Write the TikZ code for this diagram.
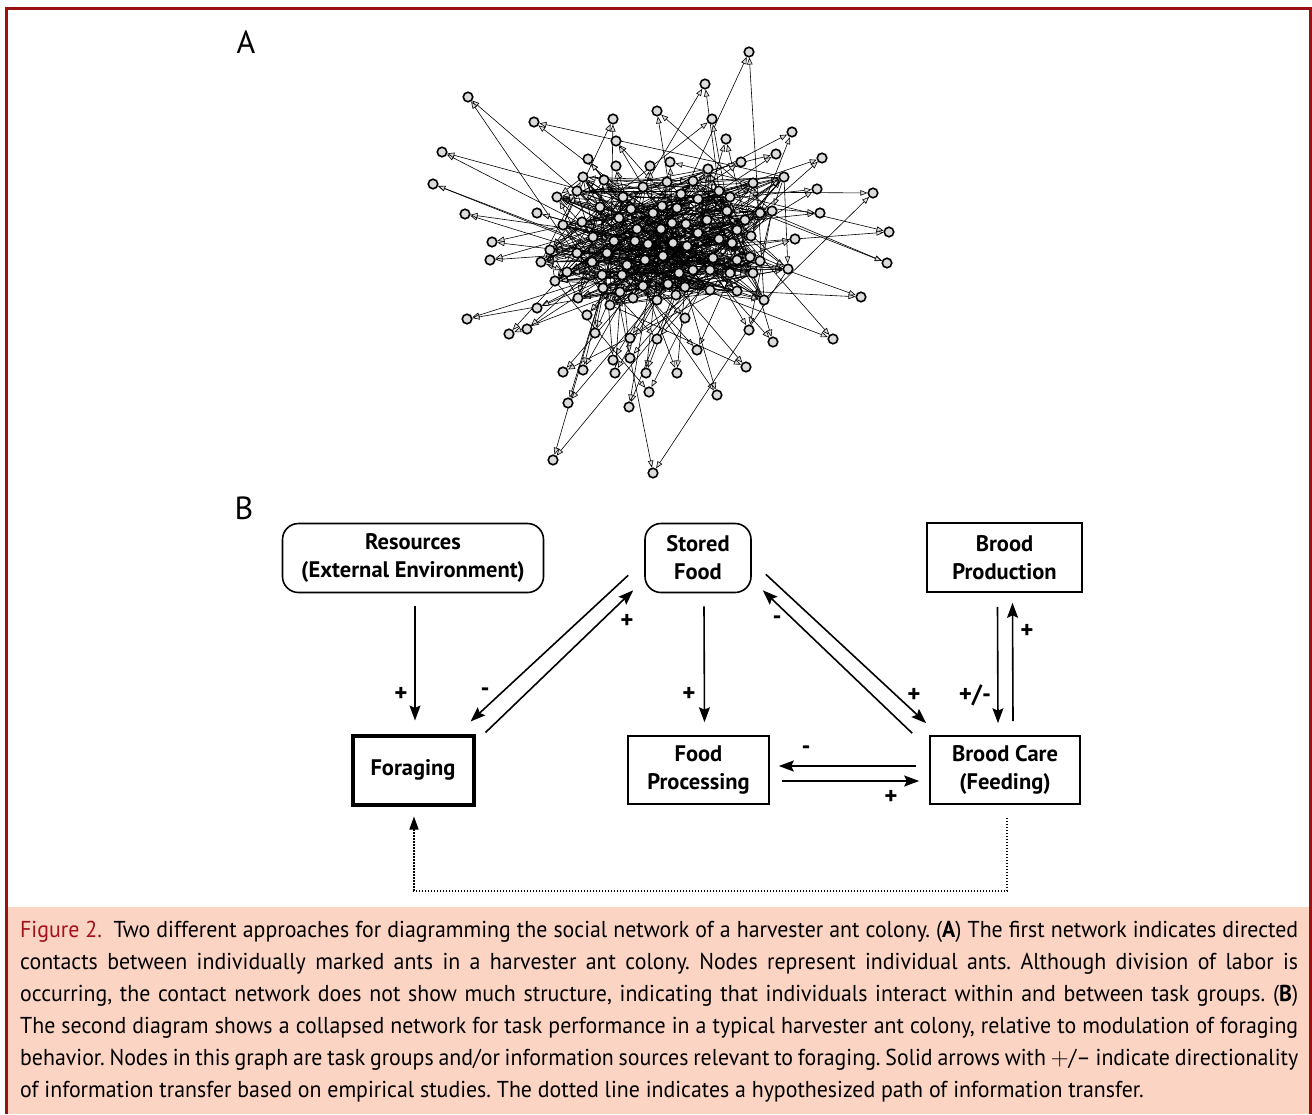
\documentclass[tikz,border=0pt]{standalone}
\usepackage{fontspec}
\setmainfont{PT Sans}
\newfontfamily\capfont{PT Sans}[FakeStretch=0.95]
\newfontfamily\boxfont{PT Sans}[FakeStretch=1.0]
\usetikzlibrary{arrows.meta,calc,positioning,backgrounds}
\definecolor{frame}{HTML}{9B1010}
\definecolor{capbg}{HTML}{FBD4C4}
\definecolor{antgray}{HTML}{DCDCDC}
\definecolor{figred}{HTML}{A3121C}

\begin{document}
\begin{tikzpicture}[x=1pt,y=-1pt,
 ant/.style={circle,draw,line width=1.6pt,fill=antgray,inner sep=0pt,minimum size=9.5pt},
 contact/.style={line width=.6pt,-{Triangle[fill=antgray,length=7pt,width=5.5pt]}},
 task/.style={draw,line width=1.6pt,align=center,inner sep=0pt,minimum height=69pt,
  font=\boxfont\bfseries\fontsize{22.5}{28}\selectfont},
 info/.style={task,rounded corners=16pt},
 flow/.style={line width=1.6pt,-{Stealth[length=15pt,width=11pt,inset=2.5pt]}},
 hyp/.style={line width=1.4pt,dash pattern=on 1.4pt off 1.6pt,-{Triangle[length=13pt,width=9pt]}},
 sign/.style={inner sep=0pt,font=\boxfont\bfseries\fontsize{25}{25}\selectfont},
 panel/.style={inner sep=0pt,font=\fontsize{32}{32}\selectfont}]
\useasboundingbox (0,0) rectangle (1312,1114);
% caption band and frame
\fill[capbg] (8,907) rectangle (1309,1114);
\draw[frame,line width=3pt] (6.5,1114) -- (6.5,8.5) -- (1310.5,8.5) -- (1310.5,1114);
\node[panel] (lblA) at (246,42) {A};
\node[panel] (lblB) at (244,508) {B};

% A: contact network of individual ants
\foreach \x/\y [count=\i] in {600/207,619/218,631/209,637/229,614/241,635/241,648/244,662/206,681/194,698/199,
 686/224,672/223,661/229,663/256,687/246,698/233,707/220,719/191,727/211,737/230,
 745/220,751/236,719/239,732/243,713/258,693/270,679/273,668/284,676/295,685/287,
 645/260,627/265,602/275,603/288,622/275,643/286,593/237,582/222,643/187,667/182,
 677/208,592/262,577/253,620/292,760/213,673/243,710/270,737/260,750/257,753/273,
 730/273,607/253,653/213,623/197,730/197,753/183,693/181,708/169,604/180,583/177,
 577/191,557/197,563/225,550/250,567/272,555/281,541/262,578/298,610/305,633/298,
 657/300,710/290,737/291,760/261,764/300,772/211,784/177,788/269}
 {\node[ant] (c\i) at (\x,\y) {}; \xdef\ncore{\i}}
\foreach \x/\y [count=\i] in {749/52,705/84,468/97,657/111,613/119,712/119,534/122,792/132,726/139,616/141,
 442/152,776/154,822/158,588/159,670/162,741/162,616/166,650/166,817/189,433/184,
 873/193,465/214,537/213,820/213,889/232,795/239,492/242,490/260,887/263,861/297,
 467/319,509/334,527/329,749/330,773/342,833/339,697/350,746/367,717/395,563/372,
 583/370,613/360,615/373,630/358,646/373,677/373,649/392,568/403,629/407,553/460,
 653/473,537/308,587/315,595/333,685/318,657/339,630/338}
 {\node[ant] (o\i) at (\x,\y) {}; \xdef\nouter{\i}}
\pgfmathsetseed{11}
\begin{scope}[on background layer]
 \foreach \i in {1,...,\ncore}{
  \foreach \k in {1,...,6}{
   \pgfmathtruncatemacro\j{mod(\i-1+random(1,\ncore-1),\ncore)+1}
   \draw[contact] (c\i) -- (c\j);
  }
 }
 \foreach \i in {1,...,\nouter}{
  \foreach \k in {1,2}{
   \pgfmathtruncatemacro\j{random(1,\ncore)}
   \draw[contact] (c\j) -- (o\i);
  }
 }
\end{scope}

% B: task groups
\node[info,minimum width=261pt] (res) at (413,558) {Resources\\(External Environment)};
\node[info,minimum width=106pt] (sto) at (698,558) {Stored\\Food};
\node[task,minimum width=155pt] (bp) at (1004.5,557.5) {Brood\\Production};
\node[task,minimum width=121pt,line width=4pt] (for) at (413,770) {Foraging};
\node[task,minimum width=141pt,minimum height=68pt] (fp) at (698.5,770) {Food\\Processing};
\node[task,minimum width=150pt,minimum height=68pt] (bc) at (1005,770) {Brood Care\\(Feeding)};

\draw[flow] ([xshift=2pt,yshift=-13pt]res.south) -- ([xshift=2pt,yshift=13pt]for.north);
\draw[flow] ($(sto.south west)+(-16,-18)$) -- ($(for.north east)+(-5,-12)$);
\draw[flow] ($(for.north east)+(10,-1)$) -- ($(sto.south west)+(-11,-3)$);
\draw[flow] ([xshift=6pt,yshift=-13pt]sto.south) -- ([xshift=6pt,yshift=13pt]fp.north);
\draw[flow] ($(sto.south east)+(14,-19)$) -- ($(bc.north west)+(-3,-12)$);
\draw[flow] ($(bc.north west)+(-17,-2)$) -- ($(sto.south east)+(11,-3)$);
\draw[flow] ([xshift=-7pt,yshift=-14pt]bp.south) -- ([xshift=-7pt,yshift=12pt]bc.north);
\draw[flow] ([xshift=8pt,yshift=14pt]bc.north) -- ([xshift=8pt,yshift=-10pt]bp.south);
\draw[flow] ([xshift=-13pt,yshift=4pt]bc.west) -- ([xshift=9pt,yshift=4pt]fp.east);
\draw[flow] ([xshift=12pt,yshift=-11pt]fp.east) -- ([xshift=-10pt,yshift=-11pt]bc.west);
\draw[hyp] ([xshift=2pt,yshift=-13pt]bc.south) -- ++(0,73) -| ([xshift=1pt,yshift=-10pt]for.south);

\node[sign] (pRes) at (401,694) {+};
\node[sign] (mSF) at (485,692) {-};
\node[sign] (pFS) at (627,621) {+};
\node[sign] (pFP) at (689,694) {+};
\node[sign] (mBS) at (777,620) {-};
\node[sign] (pSB) at (914,695) {+};
\node[sign] (pmBP) at (975,695) {+/-};
\node[sign] (pBP) at (1027,631) {+};
\node[sign] (mBF) at (806,750) {-};
\node[sign] (pFB) at (891,797) {+};

% caption
\node[anchor=north west,inner sep=0pt,text width=1278pt,align=justify,
 font=\capfont\fontsize{23}{32}\selectfont] (caption) at (20,921)
 {\frenchspacing\tolerance=10000\textcolor{figred}{Figure 2.}\enspace Two different approaches for diagramming the social network of a harvester ant colony. (\textbf{A}) The first network indicates directed\linebreak
 contacts between individually marked ants in a harvester ant colony. Nodes represent individual ants. Although division of labor is\linebreak
 occurring, the contact network does not show much structure, indicating that individuals interact within and between task groups. (\textbf{B})\linebreak
 The second diagram shows a collapsed network for task performance in a typical harvester ant colony, relative to modulation of foraging\linebreak
 behavior. Nodes in this graph are task groups and/or information sources relevant to foraging. Solid arrows with $+$/– indicate directionality\linebreak
 of information transfer based on empirical studies. The dotted line indicates a hypothesized path of information transfer.};
\end{tikzpicture}
\end{document}
